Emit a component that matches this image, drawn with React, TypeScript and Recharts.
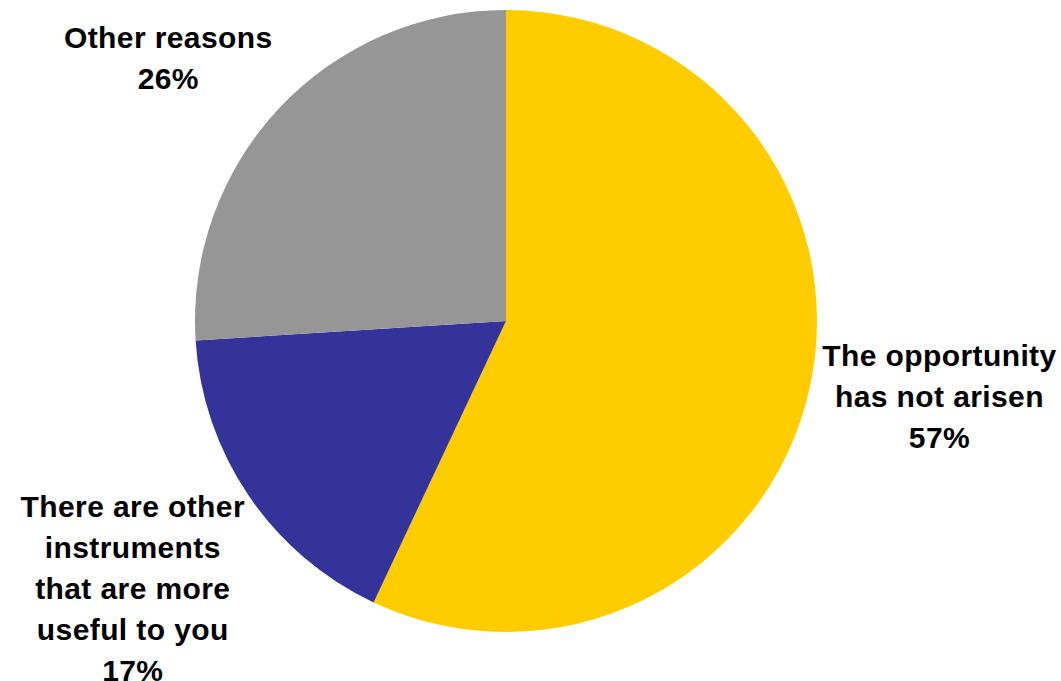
import React from 'react'
import { PieChart, Pie, Cell } from 'recharts'

const reasons = ['The opportunity\nhas not arisen', 'There are other\ninstruments\nthat are more\nuseful to you', 'Other reasons']
const shares = [57, 17, 26]
const colors = ['#FFCC00', '#333399', '#969696']

// label placement: distance from centre and small angle nudge (deg)
const labelDist = [440, 459, 428]
const labelNudge = [2.7, 1.4, 5.3]

const data = reasons.map((name, i) => ({ name, value: shares[i] }))

const RAD = Math.PI / 180
const LINE = 41

const renderLabel = (props: any) => {
  const { cx, cy, midAngle, index, name, value } = props
  const ang = (midAngle + labelNudge[index]) * RAD
  const x = cx + labelDist[index] * Math.cos(ang)
  const y = cy - labelDist[index] * Math.sin(ang)
  const lines = [...String(name).split('\n'), `${value}%`]
  const first = y - ((lines.length - 1) * LINE) / 2 + 10.5
  return (
    <text
      x={x}
      y={first}
      textAnchor="middle"
      fill="#000"
      fontFamily="'Liberation Sans', Arial, sans-serif"
      fontWeight="bold"
      fontSize={30}
      letterSpacing={0.4}
    >
      {lines.map((l, i) => (
        <tspan key={i} x={x} y={first + i * LINE}>
          {l}
        </tspan>
      ))}
    </text>
  )
}

export default function App() {
  return (
    <div style={{ position: 'absolute', left: 0, top: 0, width: 1061, height: 681, background: '#fff' }}>
      <PieChart width={1061} height={681} margin={{ top: 0, right: 0, bottom: 0, left: 0 }}>
        <Pie
          data={data}
          dataKey="value"
          nameKey="name"
          cx={506}
          cy={321}
          outerRadius={311}
          startAngle={90}
          endAngle={-270}
          stroke="none"
          labelLine={false}
          label={renderLabel}
          isAnimationActive={false}
        >
          {data.map((d, i) => (
            <Cell key={`cell-${i}`} fill={colors[i]} />
          ))}
        </Pie>
      </PieChart>
    </div>
  )
}
